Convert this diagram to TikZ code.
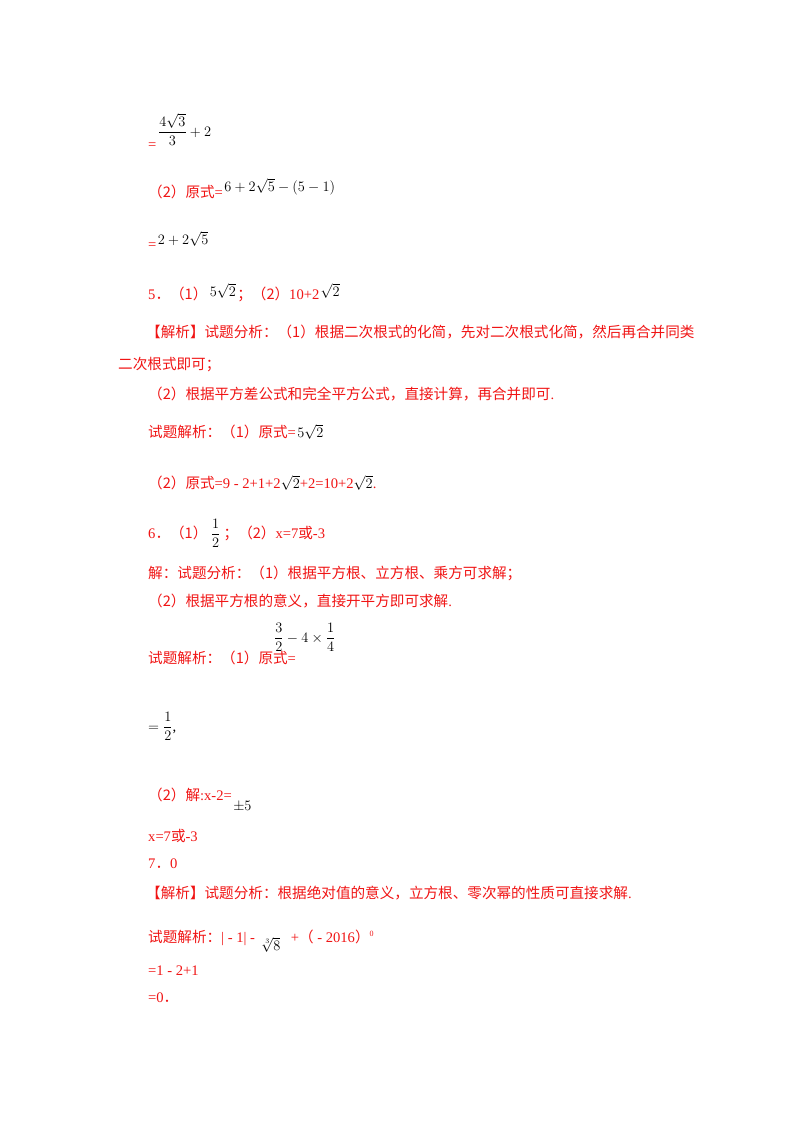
\documentclass[tikz,border=0pt]{standalone}
\usepackage{amsmath}
\usepackage{fontspec}
\setmainfont{Liberation Serif}
\newfontfamily\cjk{Noto Sans CJK SC}
\definecolor{txtred}{RGB}{240,20,20}
\newcommand{\C}[1]{{\cjk #1}}
\newcommand{\M}[1]{{\color{black}$#1$}}
\begin{document}
\begin{tikzpicture}[x=1pt,y=-1pt,
  t/.style={anchor=base west,inner sep=0pt,text=txtred,font=\fontsize{14.6}{16}\selectfont},
  m/.style={anchor=base west,inner sep=0pt,text=black,font=\fontsize{14.6}{16}\selectfont}]
\useasboundingbox (0,0) rectangle (800,1132);
\node[t] (a1) at (148,149) {=};
\node[m] (a2) at (158,136) {$\dfrac{4\sqrt{3}}{3}+2$};
\node[t] (b1) at (148,197) {\C{（2）原式}=};
\node[m] (b2) at ([xshift=1pt,yshift=6pt]b1.base east) {$6+2\sqrt{5}-\left(5-1\right)$};
\node[t] (c1) at (148,249) {=};
\node[m] (c2) at ([xshift=1pt,yshift=5pt]c1.base east) {$2+2\sqrt{5}$};
\node[t] (d1) at (148,299) {5\C{．（1）}};
\node[m] (d2) at ([xshift=2pt,yshift=3pt]d1.base east) {$5\sqrt{2}$};
\node[t] (d3) at ([xshift=1pt,yshift=-3pt]d2.base east) {\C{；（2）}10+2};
\node[m] (d4) at ([xshift=1pt,yshift=3pt]d3.base east) {$\sqrt{2}$};
\node[t] (e1) at (146,337) {\C{【解析】试题分析：（1）根据二次根式的化简，先对二次根式化简，然后再合并同类}};
\node[t] (e2) at (118,369) {\C{二次根式即可；}};
\node[t] (e3) at (148,399) {\C{（2）根据平方差公式和完全平方公式，直接计算，再合并即可}.};
\node[t] (f1) at (148,437) {\C{试题解析：（1）原式}=};
\node[m] (f2) at ([xshift=1pt]f1.base east) {$5\sqrt{2}$};
\node[t] (g1) at (148,488) {\C{（2）原式}=9 - 2+1+2\M{\sqrt{2}}+2=10+2\M{\sqrt{2}}.};
\node[t] (h1) at (148,538) {6\C{．（1）}};
\node[m] (h2) at ([xshift=3pt]h1.base east) {$\dfrac{1}{2}$};
\node[t] (h3) at ([xshift=3pt]h2.base east |- h1.base) {\C{；（2）}x=7\C{或}-3};
\node[t] (i1) at (148,578) {\C{解：试题分析：（1）根据平方根、立方根、乘方可求解；}};
\node[t] (i2) at (148,606) {\C{（2）根据平方根的意义，直接开平方即可求解}.};
\node[t] (j1) at (148,663) {\C{试题解析：（1）原式}=};
\node[m] (j2) at (274,642) {$\dfrac{3}{2}-4\times\dfrac{1}{4}$};
\node[m] (k1) at (148,731) {$=\dfrac{1}{2}$,};
\node[t] (l1) at (148,800) {\C{（2）解}:x-2=};
\node[m] (l2) at ([xshift=1pt,yshift=-10pt]l1.base east) {$\pm5$};
\node[t] (m1) at (148,841) {x=7\C{或}-3};
\node[t] (n1) at (148,868) {7\C{．}0};
\node[t] (o1) at (146,898) {\C{【解析】试题分析：根据绝对值的意义，立方根、零次幂的性质可直接求解}.};
\node[t] (p1) at (148,942) {\C{试题解析：}| - 1| -};
\node[m] (p2) at ([xshift=6pt,yshift=-8pt]p1.base east) {$\sqrt[3]{8}$};
\node[t] (p3) at ([xshift=10pt]p2.base east |- p1.base) {+\C{（} - 2016\C{）}\raisebox{6pt}{\fontsize{8}{8}\selectfont 0}};
\node[t] (q1) at (148,975) {=1 - 2+1};
\node[t] (r1) at (148,1002) {=0\C{．}};
\end{tikzpicture}
\end{document}
